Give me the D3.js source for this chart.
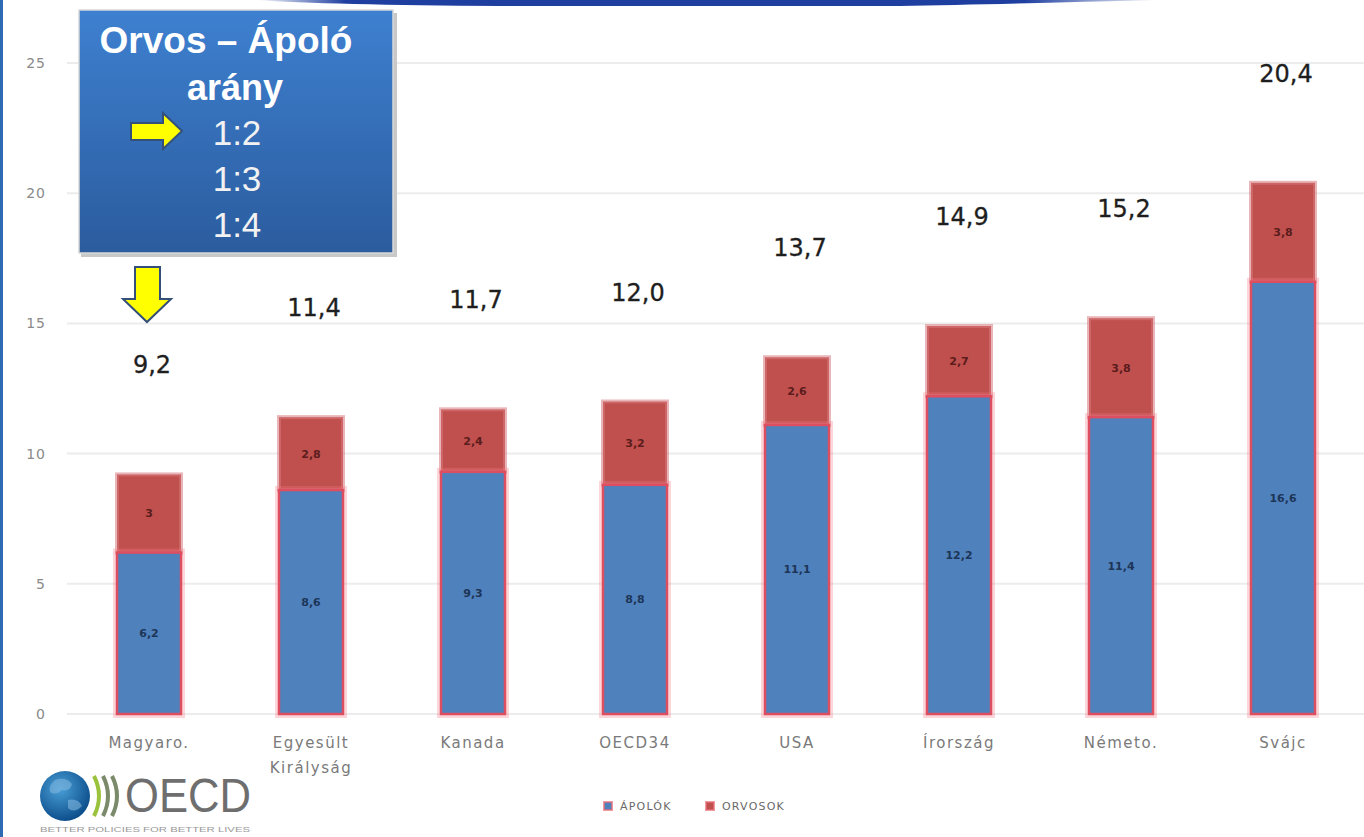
<!DOCTYPE html>
<html>
<head>
<meta charset="utf-8">
<script src="https://cdn.jsdelivr.net/npm/d3@7"></script>
<style>
  body { margin: 0; background: #fff; }
  svg { display: block; }
</style>
</head>
<body>
<svg width="1364" height="837"></svg>
<script>
// data
const categories = ['Magyaro.', 'Egyesült Királyság', 'Kanada', 'OECD34', 'USA', 'Írország', 'Németo.', 'Svájc'];
const apolok = [6.2, 8.6, 9.3, 8.8, 11.1, 12.2, 11.4, 16.6];
const orvosok = [3, 2.8, 2.4, 3.2, 2.6, 2.7, 3.8, 3.8];
const yTicks = [0, 5, 10, 15, 20, 25];
const ratios = ['1:2', '1:3', '1:4'];
const seriesNames = ['ÁPOLÓK', 'ORVOSOK'];

const svg = d3.select('svg');
const width = 1364, height = 837;

const x = d3.scaleBand()
    .domain(categories)
    .range([68, 1364])
    .paddingInner(0.605)
    .paddingOuter(0.3025);

const y = d3.scaleLinear()
    .domain([0, 25])
    .range([714, 63]);

const fmt = v => String(v).replace('.', ',');
const fmt1 = v => v.toFixed(1).replace('.', ',');

const defs = svg.append('defs');

// top decorative stripe
const topGrad = defs.append('linearGradient').attr('id', 'topGrad');
topGrad.append('stop').attr('offset', '0%').attr('stop-color', '#1f3fa0').attr('stop-opacity', 0);
topGrad.append('stop').attr('offset', '10%').attr('stop-color', '#1f3fa0').attr('stop-opacity', 1);
topGrad.append('stop').attr('offset', '85%').attr('stop-color', '#1f3fa0').attr('stop-opacity', 1);
topGrad.append('stop').attr('offset', '100%').attr('stop-color', '#1f3fa0').attr('stop-opacity', 0);

svg.append('path')
    .attr('d', 'M255,0 L1160,0 Q1000,4 900,6 L500,6 Q330,5 255,0 Z')
    .attr('fill', 'url(#topGrad)');

svg.append('rect')
    .attr('x', 0).attr('y', 0)
    .attr('width', 3).attr('height', height)
    .attr('fill', '#2f6bb3');

// gridlines
svg.append('g')
    .selectAll('line')
    .data(yTicks)
    .join('line')
    .attr('x1', 67).attr('x2', width)
    .attr('y1', d => y(d)).attr('y2', d => y(d))
    .attr('stroke', '#ececec')
    .attr('stroke-width', 2);

// y axis labels
svg.append('g')
    .selectAll('text')
    .data(yTicks)
    .join('text')
    .attr('x', 46)
    .attr('y', d => y(d) + 5)
    .attr('text-anchor', 'end')
    .attr('font-family', 'DejaVu Sans')
    .attr('font-size', 14)
    .attr('letter-spacing', 1)
    .attr('fill', '#8a8a8a')
    .text(d => d);

const bars = categories.map((c, i) => ({ cat: c, a: apolok[i], o: orvosok[i], t: apolok[i] + orvosok[i] }));

const barG = svg.append('g');

// red (ORVOSOK) segments
barG.selectAll('rect.orv')
    .data(bars)
    .join('rect')
    .attr('class', 'orv')
    .attr('x', d => x(d.cat))
    .attr('y', d => y(d.t))
    .attr('width', x.bandwidth())
    .attr('height', d => y(d.a) - y(d.t))
    .attr('fill', '#c0504d')
    .attr('stroke', 'rgba(215,120,125,0.55)')
    .attr('stroke-width', 4);

// blue (ÁPOLÓK) segments, halo then bar
barG.selectAll('rect.halo')
    .data(bars)
    .join('rect')
    .attr('class', 'halo')
    .attr('x', d => x(d.cat))
    .attr('y', d => y(d.a))
    .attr('width', x.bandwidth())
    .attr('height', d => y(0) - y(d.a))
    .attr('fill', 'none')
    .attr('stroke', 'rgba(245,120,130,0.3)')
    .attr('stroke-width', 8);

barG.selectAll('rect.apo')
    .data(bars)
    .join('rect')
    .attr('class', 'apo')
    .attr('x', d => x(d.cat))
    .attr('y', d => y(d.a))
    .attr('width', x.bandwidth())
    .attr('height', d => y(0) - y(d.a))
    .attr('fill', '#4f81bd')
    .attr('stroke', '#dc4e60')
    .attr('stroke-width', 2.5);

// segment labels
barG.selectAll('text.apoLab')
    .data(bars)
    .join('text')
    .attr('class', 'apoLab')
    .attr('x', d => x(d.cat) + x.bandwidth() / 2)
    .attr('y', d => (y(d.a) + y(0)) / 2 + 4)
    .attr('text-anchor', 'middle')
    .attr('font-family', 'DejaVu Sans')
    .attr('font-size', 11)
    .attr('font-weight', 'bold')
    .attr('fill', '#1d3557')
    .text(d => fmt(d.a));

barG.selectAll('text.orvLab')
    .data(bars)
    .join('text')
    .attr('class', 'orvLab')
    .attr('x', d => x(d.cat) + x.bandwidth() / 2)
    .attr('y', d => (y(d.t) + y(d.a)) / 2 + 4)
    .attr('text-anchor', 'middle')
    .attr('font-family', 'DejaVu Sans')
    .attr('font-size', 11)
    .attr('font-weight', 'bold')
    .attr('fill', '#5a1c1c')
    .text(d => fmt(d.o));

// totals above bars
barG.selectAll('text.tot')
    .data(bars)
    .join('text')
    .attr('class', 'tot')
    .attr('x', d => x(d.cat) + x.bandwidth() / 2 + 3)
    .attr('y', d => y(d.t) - 101)
    .attr('text-anchor', 'middle')
    .attr('font-family', 'DejaVu Sans')
    .attr('font-size', 24)
    .attr('stroke', '#1e1e1e')
    .attr('stroke-width', 0.3)
    .attr('fill', '#1e1e1e')
    .text(d => fmt1(d.t));

// category labels (wrapped on spaces)
const catG = svg.append('g');
categories.forEach(c => {
    const t = catG.append('text')
        .attr('x', x(c) + x.bandwidth() / 2)
        .attr('y', 748)
        .attr('text-anchor', 'middle')
        .attr('font-family', 'DejaVu Sans')
        .attr('font-size', 15)
        .attr('letter-spacing', 1.5)
        .attr('fill', '#7a7a7a');
    c.split(' ').forEach((w, j) => {
        t.append('tspan')
            .attr('x', x(c) + x.bandwidth() / 2)
            .attr('dy', j === 0 ? 0 : 25)
            .text(w);
    });
});

// legend
const legendColors = ['#4f81bd', '#c0504d'];
const legendX = [604, 706];
const legend = svg.append('g');
seriesNames.forEach((s, i) => {
    legend.append('rect')
        .attr('x', legendX[i]).attr('y', 802)
        .attr('width', 8).attr('height', 8)
        .attr('fill', legendColors[i])
        .attr('stroke', 'rgba(235,110,120,0.7)')
        .attr('stroke-width', 2);
    legend.append('text')
        .attr('x', legendX[i] + 16)
        .attr('y', 810)
        .attr('font-family', 'DejaVu Sans')
        .attr('font-size', 11)
        .attr('letter-spacing', 1.2)
        .attr('fill', '#6a6a6a')
        .text(s);
});

// ratio box
const boxGrad = defs.append('linearGradient')
    .attr('id', 'boxGrad')
    .attr('x1', 0).attr('y1', 0).attr('x2', 0).attr('y2', 1);
boxGrad.append('stop').attr('offset', '0%').attr('stop-color', '#3e80d0');
boxGrad.append('stop').attr('offset', '100%').attr('stop-color', '#2b5c9e');

svg.append('rect')
    .attr('x', 81).attr('y', 13)
    .attr('width', 316).attr('height', 244)
    .attr('fill', '#c8c8c8');
svg.append('rect')
    .attr('x', 79).attr('y', 10)
    .attr('width', 314).attr('height', 243)
    .attr('fill', 'url(#boxGrad)')
    .attr('stroke', '#d8d8d8')
    .attr('stroke-width', 1.5);

svg.append('text')
    .attr('x', 226).attr('y', 53)
    .attr('text-anchor', 'middle')
    .attr('font-family', 'Liberation Sans')
    .attr('font-weight', 'bold')
    .attr('font-size', 37)
    .attr('fill', '#fff')
    .text('Orvos – Ápoló');
svg.append('text')
    .attr('x', 235).attr('y', 100)
    .attr('text-anchor', 'middle')
    .attr('font-family', 'Liberation Sans')
    .attr('font-weight', 'bold')
    .attr('font-size', 36)
    .attr('fill', '#fff')
    .text('arány');

svg.append('g')
    .selectAll('text')
    .data(ratios)
    .join('text')
    .attr('x', 237)
    .attr('y', (d, i) => 145 + i * 46)
    .attr('text-anchor', 'middle')
    .attr('font-family', 'Liberation Sans')
    .attr('font-size', 35)
    .attr('fill', '#f2f2f2')
    .text(d => d);

// yellow arrows
svg.append('path')
    .attr('d', 'M131,123 L163,123 L163,113 L182,131 L163,149 L163,140 L131,140 Z')
    .attr('fill', '#ffff00')
    .attr('stroke', '#34507a')
    .attr('stroke-width', 2);

svg.append('path')
    .attr('d', 'M135,267 L160,267 L160,299 L171,299 L147,322 L123,299 L135,299 Z')
    .attr('fill', '#ffff00')
    .attr('stroke', '#34507a')
    .attr('stroke-width', 2);

// OECD logo
const globeGrad = defs.append('radialGradient')
    .attr('id', 'globeGrad')
    .attr('cx', '40%').attr('cy', '35%').attr('r', '65%');
globeGrad.append('stop').attr('offset', '0%').attr('stop-color', '#4aa0d8');
globeGrad.append('stop').attr('offset', '100%').attr('stop-color', '#0d4f8c');

const logo = svg.append('g');
logo.append('circle')
    .attr('cx', 65).attr('cy', 796).attr('r', 25)
    .attr('fill', 'url(#globeGrad)');
logo.append('path')
    .attr('d', 'M55,780 Q66,776 72,784 Q70,792 62,790 Q56,796 50,792 Q48,786 55,780 Z M68,800 Q78,798 82,806 Q74,814 68,808 Z')
    .attr('fill', '#7fb6de')
    .attr('opacity', 0.6);
[0, 9, 18].forEach(dx => {
    logo.append('path')
        .attr('d', `M${94 + dx},776 Q${104 + dx},796 ${94 + dx},816`)
        .attr('fill', 'none')
        .attr('stroke', dx === 0 ? '#9bc23c' : '#7a8a6a')
        .attr('stroke-width', 4);
});
logo.append('text')
    .attr('x', 125).attr('y', 812)
    .attr('font-family', 'Liberation Sans')
    .attr('font-size', 48)
    .attr('textLength', 126)
    .attr('lengthAdjust', 'spacingAndGlyphs')
    .attr('fill', '#6e6e6e')
    .text('OECD');
logo.append('text')
    .attr('x', 40).attr('y', 832)
    .attr('font-family', 'Liberation Sans')
    .attr('font-size', 7)
    .attr('textLength', 210)
    .attr('lengthAdjust', 'spacingAndGlyphs')
    .attr('fill', '#9a9a9a')
    .text('BETTER POLICIES FOR BETTER LIVES');
</script>
</body>
</html>
